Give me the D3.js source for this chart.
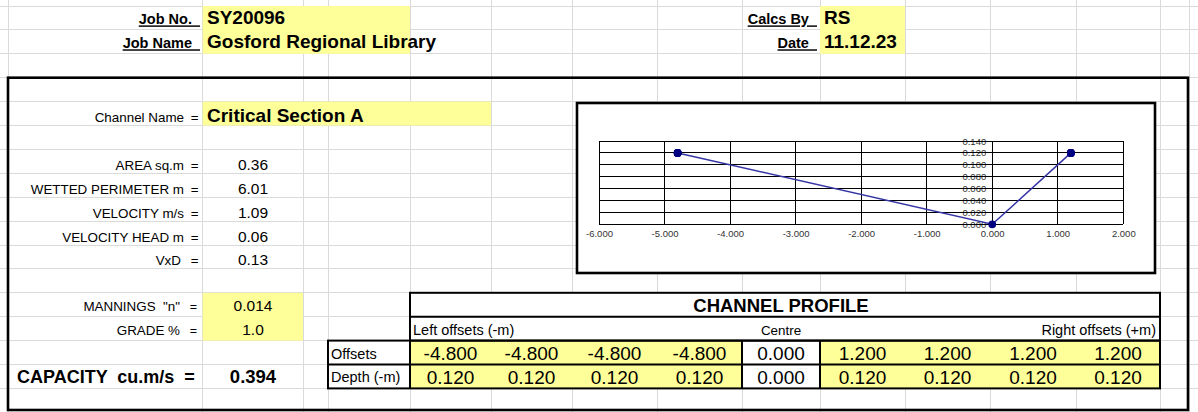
<!DOCTYPE html>
<html>
<head>
<meta charset="utf-8">
<script src="https://cdn.jsdelivr.net/npm/d3@7"></script>
<style>
  body { margin: 0; background: #fff; }
  svg { display: block; font-family: Arial, "Liberation Sans", sans-serif; }
  svg text { white-space: pre; }
</style>
</head>
<body>
<svg id="sheet" width="1198" height="412"></svg>
<script>
// ---------- sheet content ----------
const headerLabels = ["Job No.", "Job Name"];
const headerValues = ["SY20096", "Gosford Regional Library"];
const calcLabels   = ["Calcs By", "Date"];
const calcValues   = ["RS", "11.12.23"];

const channelName = "Critical Section A";

const resultLabels = ["AREA sq.m", "WETTED PERIMETER m", "VELOCITY m/s", "VELOCITY HEAD m", "VxD"];
const resultValues = ["0.36", "6.01", "1.09", "0.06", "0.13"];

const inputLabels = ['MANNINGS  "n"', "GRADE %"];
const inputValues = ["0.014", "1.0"];

const capacityValue = "0.394";

// channel profile: offsets from the centre line (m) and depths (m)
const offsets = [-4.8, -4.8, -4.8, -4.8, 0.0, 1.2, 1.2, 1.2, 1.2];
const depths  = [0.12, 0.12, 0.12, 0.12, 0.0, 0.12, 0.12, 0.12, 0.12];

// chart axis ticks
const xTicks = [-6, -5, -4, -3, -2, -1, 0, 1, 2];
const yTicks = [0, 0.02, 0.04, 0.06, 0.08, 0.10, 0.12, 0.14];

// ---------- layout ----------
const W = 1198, H = 412;
const ROW0 = 6, ROW_H = 23.9;
const rowTop = i => ROW0 + i * ROW_H;
const rowBot = i => ROW0 + (i + 1) * ROW_H;
const colEdges = [8, 202.7, 303, 328, 410, 491, 572, 657, 742, 820, 905, 990, 1076, 1160, 1189];
const tableCols = colEdges.slice(4, 14);   // 410 .. 1160, nine value cells

const YELLOW = "#ffff99";
const GRID = "#dadada";
const FONT_SMALL = 13.4, FONT_VAL = 15.5, FONT_BIG = 18.5, FONT_TABLE = 19, FONT_TLABEL = 14.5;
const FONT_TICK = 9.5;

const svg = d3.select("#sheet");
svg.append("rect").attr("width", W).attr("height", H).attr("fill", "#fff");

// spreadsheet gridlines
const grid = svg.append("g").attr("stroke", GRID).attr("stroke-width", 1).attr("shape-rendering", "crispEdges");
colEdges.forEach(x => grid.append("line").attr("x1", x).attr("x2", x).attr("y1", 0).attr("y2", H));
d3.range(0, 18).forEach(i => grid.append("line").attr("x1", 0).attr("x2", W).attr("y1", rowTop(i)).attr("y2", rowTop(i)));

// cell fills
function fill(x0, x1, r0, r1, color) {
  svg.append("rect").attr("x", x0).attr("y", rowTop(r0)).attr("width", x1 - x0)
     .attr("height", rowBot(r1) - rowTop(r0)).attr("fill", color);
}
fill(202.7, 410, 0, 1, YELLOW);       // job number / name
fill(820, 905, 0, 1, YELLOW);         // calcs by / date
fill(202.7, 491, 4, 4, YELLOW);       // channel name
fill(202.7, 303, 12, 13, YELLOW);     // mannings / grade
fill(410, 1160, 12, 13, "#fff");      // channel profile heading cells
fill(328, 410, 14, 15, "#fff");
fill(410, 742, 14, 15, YELLOW);       // left offsets
fill(742, 820, 14, 15, "#fff");       // centre
fill(820, 1160, 14, 15, YELLOW);      // right offsets

// text helper
function txt(x, y, s, o = {}) {
  return svg.append("text").attr("x", x).attr("y", y).text(s)
    .attr("font-size", o.size || FONT_SMALL)
    .attr("font-weight", o.bold ? "bold" : null)
    .attr("text-anchor", o.anchor || "start")
    .attr("fill", o.color || "#000")
    .style("text-decoration", o.underline ? "underline" : null);
}

// header block
headerLabels.forEach((s, i) => txt(200, rowBot(i) - 5.5, s + "\u00A0\u00A0", { size: 14.5, bold: true, anchor: "end", underline: true }));
headerValues.forEach((s, i) => txt(207, rowBot(i) - 5.5, s, { size: 19, bold: true }));
calcLabels.forEach((s, i) => txt(817, rowBot(i) - 5.5, s + "\u00A0\u00A0", { size: 14.5, bold: true, anchor: "end", underline: true }));
calcValues.forEach((s, i) => txt(824, rowBot(i) - 5.5, s, { size: 19, bold: true }));

// channel name
txt(184, rowBot(4) - 4, "Channel Name", { anchor: "end" });
txt(198.5, rowBot(4) - 4, "=", { anchor: "end" });
txt(207, rowBot(4) - 4, channelName, { size: 19, bold: true });

// calculated results
resultLabels.forEach((s, i) => {
  const r = 6 + i;
  txt(i === 4 ? 181 : 184, rowBot(r) - 3.5, s, { anchor: "end" });
  txt(198.5, rowBot(r) - 3.5, "=", { anchor: "end" });
  txt(253, rowBot(r) - 3.5, resultValues[i], { size: FONT_VAL, anchor: "middle" });
});

// inputs
inputLabels.forEach((s, i) => {
  const r = 12 + i;
  txt(180, rowBot(r) - 5.5, s, { anchor: "end" });
  txt(197, rowBot(r) - 5.5, "=", { anchor: "end", size: 12.5 });
  txt(253, rowBot(r) - 5.5, inputValues[i], { size: FONT_VAL, anchor: "middle" });
});

// capacity
txt(17, rowBot(15) - 5.5, "CAPACITY  cu.m/s  =", { size: 18, bold: true });
txt(253, rowBot(15) - 5.5, capacityValue, { size: FONT_BIG, bold: true, anchor: "middle" });

// channel profile table
const fmt3 = d3.formatLocale({ decimal: ".", thousands: ",", grouping: [3], currency: ["", ""], minus: "-" }).format(".3f");
txt(781, rowBot(12) - 5, "CHANNEL PROFILE", { size: FONT_BIG, bold: true, anchor: "middle" });
txt(413, rowBot(13) - 5.5, "Left offsets (-m)", { size: FONT_TLABEL });
txt(781, rowBot(13) - 5.5, "Centre", { anchor: "middle" });
txt(1156, rowBot(13) - 5.5, "Right offsets (+m)", { size: FONT_TLABEL, anchor: "end" });
txt(331, rowBot(14) - 6, "Offsets", { size: FONT_TLABEL });
txt(331, rowBot(15) - 6, "Depth (-m)", { size: FONT_TLABEL });
offsets.forEach((v, i) => {
  const cx = (tableCols[i] + tableCols[i + 1]) / 2;
  txt(cx, rowBot(14) - 4.8, fmt3(v), { size: FONT_TABLE, anchor: "middle" });
  txt(cx, rowBot(15) - 4.8, fmt3(depths[i]), { size: FONT_TABLE, anchor: "middle" });
});

// table borders
const tb = svg.append("g").attr("stroke", "#000").attr("stroke-width", 2).attr("fill", "none");
tb.append("rect").attr("x", 410).attr("y", rowTop(12)).attr("width", 1160 - 410).attr("height", rowBot(13) - rowTop(12));
tb.append("line").attr("x1", 410).attr("x2", 1160).attr("y1", rowTop(13)).attr("y2", rowTop(13));
tb.append("rect").attr("x", 328).attr("y", rowTop(14)).attr("width", 1160 - 328).attr("height", rowBot(15) - rowTop(14));
tb.append("line").attr("x1", 328).attr("x2", 1160).attr("y1", rowTop(15)).attr("y2", rowTop(15));
[410, 742, 820].forEach(x => tb.append("line").attr("x1", x).attr("x2", x).attr("y1", rowTop(14)).attr("y2", rowBot(15)));

// outer frame of the calculation sheet
svg.append("rect").attr("x", 8).attr("y", rowTop(3)).attr("width", 1188 - 8).attr("height", 410 - rowTop(3))
   .attr("fill", "none").attr("stroke", "#000").attr("stroke-width", 2.6);

// ---------- channel profile chart ----------
const frame = { x0: 577, y0: 103, x1: 1155, y1: 273 };
svg.append("rect").attr("x", frame.x0).attr("y", frame.y0)
   .attr("width", frame.x1 - frame.x0).attr("height", frame.y1 - frame.y0)
   .attr("fill", "#fff").attr("stroke", "#000").attr("stroke-width", 2.6);

const x = d3.scaleLinear().domain([-6, 2]).range([599, 1123.3]);
const y = d3.scaleLinear().domain([0, 0.14]).range([224.3, 141]);

const chart = svg.append("g");

// x axis labels
const xAxis = d3.axisBottom(x).tickValues(xTicks).tickFormat(fmt3).tickSize(0).tickPadding(6);
const gx = chart.append("g").attr("transform", `translate(0,${y(0)})`).call(xAxis);
gx.select(".domain").remove();
gx.selectAll("text").attr("font-size", FONT_TICK).attr("fill", "#333").attr("font-family", "Arial, 'Liberation Sans', sans-serif");

// y axis labels, crossing at x = 0
const yAxis = d3.axisLeft(y).tickValues(yTicks).tickFormat(fmt3).tickSize(0).tickPadding(6);
const gy = chart.append("g").attr("transform", `translate(${x(0)},0)`).call(yAxis);
gy.select(".domain").remove();
gy.selectAll("text").attr("font-size", FONT_TICK).attr("fill", "#333").attr("font-family", "Arial, 'Liberation Sans', sans-serif");

// plot gridlines
const gl = chart.append("g").attr("stroke", "#000").attr("stroke-width", 1).attr("shape-rendering", "crispEdges");
yTicks.forEach(t => gl.append("line").attr("x1", x(-6)).attr("x2", x(2)).attr("y1", y(t)).attr("y2", y(t)));
xTicks.forEach(t => gl.append("line").attr("x1", x(t)).attr("x2", x(t)).attr("y1", y(0)).attr("y2", y(0.14)));

// profile line and markers
const pts = offsets.map((o, i) => [o, depths[i]]);
chart.append("path").datum(pts)
  .attr("d", d3.line().x(d => x(d[0])).y(d => y(d[1])))
  .attr("fill", "none").attr("stroke", "#3535a5").attr("stroke-width", 1.5);
chart.selectAll("circle.pt").data(pts).join("circle").attr("class", "pt")
  .attr("cx", d => x(d[0])).attr("cy", d => y(d[1])).attr("r", 3.9).attr("fill", "#000080");
</script>
</body>
</html>
